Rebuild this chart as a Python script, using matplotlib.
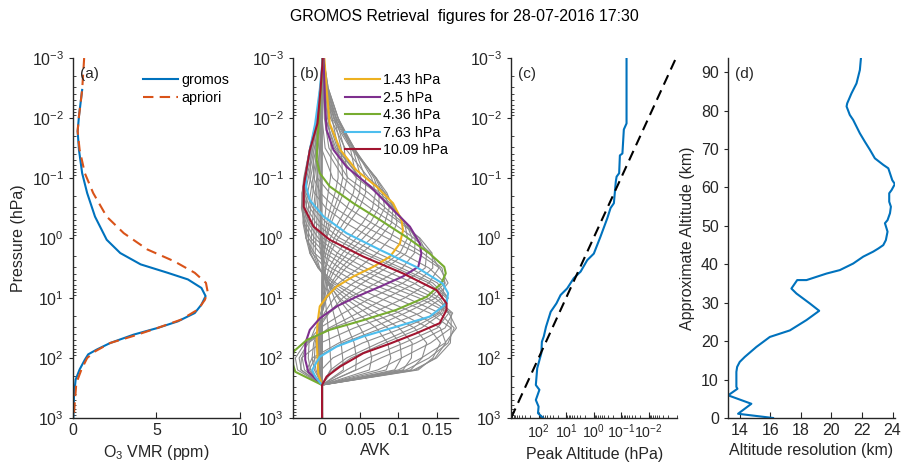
import numpy as np
import matplotlib
matplotlib.use("Agg")
import matplotlib.pyplot as plt
from matplotlib.ticker import LogLocator, NullFormatter, FixedLocator

plt.rcParams["font.family"] = ["Liberation Sans", "DejaVu Sans"]
plt.rcParams["mathtext.default"] = "regular"

AX_COLOR = "#262626"
BLUE = "#0072BD"
ORANGE = "#D95319"
KERNEL_COLORS = ["#EDB120", "#7E2F8E", "#77AC30", "#4DBEEE", "#A2142F"]
TICK_SIZE = 11.5
LABEL_SIZE = 11.5
LEGEND_SIZE = 10.3

TITLE = "GROMOS Retrieval  figures for 28-07-2016 17:30"

# ---- (a) ozone profile: retrieved vs apriori
gromos_vmr = [0.55, 0.36, 0.28, 0.36, 0.55, 0.85, 1.32, 2.02, 2.83, 4.05, 5.67, 6.88, 7.69, 7.94,
              7.69, 7.29, 6.28, 5.06, 3.64, 2.23, 1.42, 0.91, 0.71, 0.40, 0.16, 0.06, 0.02]
gromos_p = [0.0034, 0.0093, 0.0166, 0.034, 0.083, 0.178, 0.44, 1.07, 1.78, 2.75, 3.8, 4.9, 6.8, 9.3,
            12.9, 17.8, 24.5, 31.6, 40.7, 56.2, 72.4, 87, 107, 155, 229, 437, 1000]
apriori_vmr = [0.67, 0.55, 0.36, 0.28, 0.40, 0.71, 1.21, 2.02, 3.04, 4.45, 6.07, 7.29, 7.96, 8.06,
               7.90, 7.49, 6.48, 5.06, 3.64, 2.23, 1.32, 0.85, 0.51, 0.20, 0.04]
apriori_p = [0.001, 0.0034, 0.0093, 0.0166, 0.034, 0.083, 0.178, 0.44, 0.83, 1.55, 2.45, 3.8, 5.6, 7.8,
             10.7, 15.5, 22.9, 31.6, 42.7, 56.2, 77.6, 100, 155, 263, 1000]

# ---- (b) averaging kernels (gray rows on a common pressure grid)
avk_grid_p = [0.001, 0.00316, 0.01, 0.0316, 0.1, 0.178, 0.316, 0.562, 1.0, 1.78,
              3.16, 5.62, 10, 17.8, 31.6, 56.2, 100, 158, 282, 1000]
gray_kernels = [
    [0.001, 0.004, 0.008, 0.012, 0.011, 0.008, 0.005, 0.003, 0.001, 0, 0, 0, 0, 0, 0, 0, 0, 0, 0, 0],
    [0.002, 0.006, 0.013, 0.021, 0.021, 0.017, 0.011, 0.006, 0.003, 0.001, 0, 0, 0, 0, 0, 0, 0, 0, 0, 0],
    [0.002, 0.007, 0.016, 0.025, 0.027, 0.023, 0.016, 0.009, 0.005, 0.002, 0.001, 0, 0, 0, 0, 0, 0, 0, 0, 0],
    [0.002, 0.007, 0.018, 0.029, 0.033, 0.028, 0.020, 0.012, 0.006, 0.003, 0.001, 0, 0, 0, 0, 0, 0, 0, 0, 0],
    [0.002, 0.008, 0.021, 0.037, 0.045, 0.041, 0.032, 0.021, 0.011, 0.005, 0.002, 0.001, 0, 0, 0, 0, 0, 0, 0, 0],
    [0.002, 0.008, 0.021, 0.040, 0.051, 0.049, 0.041, 0.028, 0.016, 0.008, 0.004, 0.002, 0, 0, -0.001, -0.001, -0.001, -0.001, 0, 0],
    [0.002, 0.007, 0.021, 0.042, 0.057, 0.057, 0.049, 0.035, 0.021, 0.011, 0.005, 0.002, 0, 0, -0.001, -0.002, -0.002, -0.001, 0, 0],
    [0.001, 0.006, 0.019, 0.042, 0.065, 0.070, 0.066, 0.053, 0.035, 0.020, 0.009, 0.004, 0.001, 0, -0.002, -0.003, -0.003, -0.002, 0, 0],
    [0.001, 0.005, 0.018, 0.042, 0.068, 0.075, 0.074, 0.063, 0.045, 0.027, 0.014, 0.006, 0.002, 0, -0.002, -0.004, -0.004, -0.003, 0, 0],
    [0.001, 0.004, 0.016, 0.041, 0.070, 0.079, 0.082, 0.072, 0.054, 0.034, 0.018, 0.008, 0.003, 0, -0.002, -0.004, -0.005, -0.003, 0, 0],
    [0.001, 0.004, 0.015, 0.039, 0.071, 0.082, 0.088, 0.082, 0.065, 0.043, 0.025, 0.012, 0.005, 0, -0.003, -0.005, -0.006, -0.004, 0, 0],
    [0, 0.003, 0.013, 0.037, 0.071, 0.085, 0.093, 0.091, 0.075, 0.052, 0.031, 0.015, 0.006, 0, -0.003, -0.005, -0.006, -0.004, 0, 0],
    [0.001, 0.004, 0.011, 0.030, 0.061, 0.083, 0.095, 0.098, 0.090, 0.072, 0.048, 0.022, 0.006, -0.002, -0.005, -0.006, -0.006, -0.005, 0, 0],
    [0.002, 0.003, 0.007, 0.020, 0.050, 0.076, 0.095, 0.108, 0.112, 0.102, 0.075, 0.041, 0.016, 0.003, -0.005, -0.009, -0.010, -0.008, 0, 0],
    [0.001, 0.001, 0.004, 0.018, 0.050, 0.072, 0.093, 0.110, 0.118, 0.110, 0.084, 0.053, 0.027, 0.009, -0.004, -0.011, -0.013, -0.010, 0, 0],
    [0.001, 0.002, 0.005, 0.016, 0.045, 0.072, 0.092, 0.110, 0.122, 0.121, 0.105, 0.071, 0.035, 0.009, -0.009, -0.017, -0.018, -0.015, 0, 0],
    [0.001, 0.002, 0.003, 0.009, 0.034, 0.061, 0.083, 0.106, 0.127, 0.137, 0.135, 0.106, 0.064, 0.028, -0.003, -0.020, -0.026, -0.023, 0, 0],
    [0.001, 0.001, 0, 0.004, 0.028, 0.050, 0.076, 0.103, 0.128, 0.144, 0.145, 0.123, 0.084, 0.047, 0.009, -0.018, -0.030, -0.027, 0, 0],
    [0.001, 0, -0.002, -0.001, 0.014, 0.036, 0.063, 0.093, 0.120, 0.142, 0.153, 0.140, 0.108, 0.066, 0.013, -0.022, -0.035, -0.032, 0, 0],
    [0.001, -0.002, -0.005, -0.009, -0.006, 0.010, 0.034, 0.065, 0.099, 0.132, 0.157, 0.161, 0.141, 0.097, 0.042, -0.002, -0.027, -0.028, 0, 0],
    [0.001, -0.002, -0.006, -0.012, -0.011, -0.002, 0.017, 0.047, 0.085, 0.124, 0.154, 0.165, 0.149, 0.109, 0.065, 0.022, -0.013, -0.020, 0, 0],
    [0.001, -0.003, -0.007, -0.014, -0.016, -0.010, 0.005, 0.031, 0.065, 0.104, 0.140, 0.161, 0.157, 0.128, 0.079, 0.027, -0.009, -0.017, 0, 0],
    [0.001, -0.002, -0.007, -0.015, -0.022, -0.021, -0.012, 0.006, 0.034, 0.072, 0.115, 0.151, 0.165, 0.152, 0.106, 0.053, 0.014, -0.001, 0, 0],
    [0.001, -0.002, -0.006, -0.015, -0.022, -0.023, -0.016, -0.002, 0.023, 0.060, 0.104, 0.145, 0.165, 0.155, 0.119, 0.074, 0.032, 0.011, 0, 0],
    [0.001, -0.002, -0.006, -0.015, -0.022, -0.024, -0.020, -0.008, 0.015, 0.053, 0.097, 0.140, 0.163, 0.158, 0.130, 0.082, 0.038, 0.015, 0, 0],
    [0.001, -0.002, -0.006, -0.016, -0.023, -0.025, -0.024, -0.016, 0.001, 0.033, 0.074, 0.120, 0.154, 0.166, 0.151, 0.107, 0.060, 0.032, 0, 0],
    [0.001, -0.002, -0.007, -0.016, -0.024, -0.026, -0.025, -0.018, -0.005, 0.020, 0.057, 0.104, 0.148, 0.171, 0.161, 0.123, 0.077, 0.045, 0, 0],
    [0.001, -0.002, -0.007, -0.015, -0.023, -0.026, -0.026, -0.021, -0.010, 0.012, 0.046, 0.091, 0.138, 0.169, 0.169, 0.142, 0.104, 0.073, 0, 0],
    [0.001, -0.002, -0.006, -0.014, -0.022, -0.026, -0.027, -0.023, -0.015, 0.004, 0.034, 0.077, 0.127, 0.166, 0.176, 0.161, 0.130, 0.100, 0, 0],
    [0.001, -0.002, -0.005, -0.012, -0.020, -0.024, -0.026, -0.024, -0.018, -0.003, 0.023, 0.062, 0.111, 0.154, 0.173, 0.165, 0.140, 0.110, 0, 0],
    [0.001, -0.001, -0.004, -0.010, -0.018, -0.022, -0.024, -0.025, -0.021, -0.010, 0.012, 0.047, 0.095, 0.141, 0.169, 0.168, 0.150, 0.120, 0, 0],
    [0.001, -0.001, -0.003, -0.008, -0.015, -0.019, -0.021, -0.023, -0.021, -0.013, 0.004, 0.033, 0.075, 0.121, 0.155, 0.162, 0.148, 0.123, 0, 0],
    [0.001, 0, -0.002, -0.006, -0.012, -0.015, -0.018, -0.020, -0.021, -0.016, -0.005, 0.018, 0.055, 0.101, 0.140, 0.155, 0.145, 0.126, 0, 0],
    [0.001, 0, -0.002, -0.005, -0.010, -0.012, -0.015, -0.017, -0.018, -0.016, -0.005, 0.014, 0.046, 0.086, 0.121, 0.137, 0.131, 0.116, 0, 0],
    [0.001, 0, -0.001, -0.003, -0.007, -0.009, -0.011, -0.013, -0.014, -0.015, -0.005, 0.010, 0.037, 0.070, 0.101, 0.118, 0.117, 0.106, 0, 0],
    [0.001, 0, -0.001, -0.003, -0.006, -0.007, -0.009, -0.010, -0.011, -0.012, -0.004, 0.008, 0.030, 0.058, 0.086, 0.102, 0.104, 0.095, 0, 0],
    [0.001, 0, 0, -0.002, -0.004, -0.005, -0.006, -0.007, -0.008, -0.009, -0.003, 0.006, 0.023, 0.046, 0.071, 0.086, 0.090, 0.084, 0, 0],
    [0, 0, 0, -0.001, -0.002, -0.003, -0.004, -0.004, -0.004, -0.002, 0.001, 0.009, 0.021, 0.036, 0.050, 0.061, 0.065, 0.062, 0, 0],
    [0, 0, 0, 0, -0.001, -0.002, -0.002, -0.002, -0.002, -0.001, 0.002, 0.008, 0.016, 0.025, 0.034, 0.042, 0.045, 0.044, 0, 0],
    [0, 0, 0, 0, 0, -0.001, -0.001, -0.001, -0.001, 0, 0.002, 0.005, 0.010, 0.015, 0.020, 0.025, 0.027, 0.028, 0, 0],
    [0, 0, 0, 0, 0, 0, 0, 0, 0, 0, 0.001, 0.002, 0.004, 0.006, 0.008, 0.010, 0.011, 0.012, 0, 0],
]

kernel_labels = ["1.43 hPa", "2.5 hPa", "4.36 hPa", "7.63 hPa", "10.09 hPa"]
avk_143 = [0.003, 0.006, 0.010, 0.024, 0.045, 0.071, 0.093, 0.104, 0.106, 0.102, 0.089, 0.067, 0.041,
           0.019, 0.006, -0.003, -0.006, -0.007, -0.006, -0.005, 0, 0]
p_143 = [0.001, 0.0034, 0.0123, 0.034, 0.074, 0.138, 0.263, 0.5, 0.74, 1.23, 2.04, 3.02, 4.37,
         6.46, 9.55, 13.8, 26.3, 50.1, 95.5, 182, 282, 1000]
avk_250 = [0.002, 0.004, 0.006, 0.015, 0.032, 0.063, 0.089, 0.115, 0.128, 0.130, 0.126, 0.106, 0.076,
           0.045, 0.019, -0.003, -0.016, -0.022, -0.022, -0.018, 0, 0]
p_250 = [0.001, 0.0065, 0.0158, 0.034, 0.065, 0.138, 0.302, 0.646, 1.23, 1.82, 3.02, 4.37, 6.46,
         9.55, 13.8, 21.9, 33.9, 57.5, 107, 170, 282, 1000]
avk_436 = [0.001, -0.003, -0.006, -0.007, -0.003, 0.010, 0.041, 0.076, 0.110, 0.141, 0.160, 0.162, 0.156,
           0.137, 0.097, 0.054, 0.010, -0.020, -0.037, -0.040, -0.035, 0, 0]
p_436 = [0.001, 0.0065, 0.0234, 0.05, 0.083, 0.138, 0.263, 0.5, 0.955, 1.82, 3.02, 3.89, 5.75,
         9.55, 15.8, 23.4, 33.9, 50.1, 77.6, 107, 170, 282, 1000]
avk_763 = [0.001, -0.003, -0.009, -0.016, -0.021, -0.021, -0.016, 0.002, 0.032, 0.076, 0.123, 0.158, 0.165,
           0.163, 0.141, 0.097, 0.054, 0.019, -0.003, -0.013, -0.009, 0, 0]
p_763 = [0.001, 0.0034, 0.0123, 0.034, 0.083, 0.138, 0.234, 0.437, 0.83, 1.58, 3.02, 5.75, 8.3,
         12.3, 20.4, 30.2, 43.7, 64.6, 95.5, 158, 204, 282, 1000]
avk_1009 = [0.001, -0.002, -0.006, -0.016, -0.024, -0.024, -0.011, 0.010, 0.054, 0.106, 0.150, 0.163, 0.163,
            0.154, 0.123, 0.089, 0.054, 0.024, 0.006, 0, 0]
p_1009 = [0.001, 0.0034, 0.0123, 0.034, 0.138, 0.302, 0.646, 1.07, 2.04, 3.89, 7.41, 12.3, 15.8,
          26.3, 38.9, 57.5, 83.2, 138, 204, 282, 1000]

# ---- (c) peak altitude of each kernel vs nominal pressure
peak_p = [0.063, 0.063, 0.079, 0.089, 0.11, 0.117, 0.145, 0.155, 0.182, 0.24, 0.316, 0.562, 0.977,
          1.7, 2.95, 5.25, 9.12, 15.8, 22.4, 36.3, 53.7, 64.6, 75.9, 79.4, 112, 126, 93.3, 126, 100, 105, 67.6]
nominal_p = [0.001, 0.0123, 0.0155, 0.039, 0.042, 0.083, 0.095, 0.115, 0.263, 0.316, 0.468, 0.955, 1.82,
             2.34, 3.63, 4.68, 6.92, 8.91, 12.3, 17.0, 30.2, 43.7, 53.7, 83.2, 148, 282, 339, 501, 646, 832, 1000]

# ---- (d) altitude resolution
resolution_km = [21.93, 21.86, 21.64, 21.31, 21.03, 20.99, 21.2, 21.42, 21.86, 22.19, 22.52, 22.84, 23.39,
                 23.72, 23.83, 23.98, 24.15, 23.93, 23.78, 23.78, 23.89, 23.83, 23.67, 23.5, 23.61, 23.67,
                 23.56, 23.39, 23.06, 22.73, 22.08, 21.42, 20.55, 19.68, 18.37, 17.76, 17.38, 17.71, 18.59,
                 19.2, 18.37, 17.28, 15.97, 15.09, 14.33, 14.0, 13.83, 13.78, 13.78, 13.85, 13.24, 14.76,
                 13.89, 16.18]
altitude_km = [93.7, 90.6, 87.1, 84.5, 81.9, 81.1, 78.9, 77.6, 74.1, 71.9, 69.8, 67.6, 65.9,
               65.0, 63.7, 61.9, 60.9, 59.3, 58.5, 56.3, 55.0, 53.3, 51.5, 50.7, 49.3, 48.5,
               46.3, 45.0, 44.1, 43.3, 42.0, 40.2, 38.5, 37.6, 35.9, 35.9, 33.7, 32.4, 29.8,
               27.9, 25.5, 22.8, 21.1, 18.5, 15.9, 14.6, 13.3, 12.0, 8.1, 7.6, 5.9, 3.7,
               1.1, 0.0]


def styleAxis(ax):
    for side in ["top", "right"]:
        ax.spines[side].set_visible(False)
    for side in ["left", "bottom"]:
        ax.spines[side].set_color(AX_COLOR)
        ax.spines[side].set_linewidth(1.0)
    ax.tick_params(which="both", colors=AX_COLOR, labelsize=TICK_SIZE)
    ax.tick_params(axis="y", which="major", direction="out", length=3)
    ax.tick_params(axis="y", which="minor", direction="in", length=2.5)
    ax.tick_params(axis="x", which="major", direction="in", length=4)
    ax.tick_params(axis="x", which="minor", direction="in", length=2.5)


def logPressureAxis(ax):
    ax.set_yscale("log")
    ax.set_ylim(1000, 1e-3)
    ax.yaxis.set_major_locator(FixedLocator([1e-3, 1e-2, 1e-1, 1e0, 1e1, 1e2, 1e3]))
    ax.yaxis.set_minor_locator(LogLocator(base=10, subs=np.arange(2, 10), numticks=20))
    ax.yaxis.set_minor_formatter(NullFormatter())


def panelTag(ax, tag):
    ax.text(0.04, 0.955, tag, transform=ax.transAxes, ha="left", va="center", fontsize=11, color=AX_COLOR)


def cornerLegend(ax, x0):
    ax.legend(loc="upper left", bbox_to_anchor=(x0, 0.974), borderaxespad=0, frameon=False,
              fontsize=LEGEND_SIZE, handlelength=2.45, handletextpad=0.2, labelspacing=0.25)


fig = plt.figure(figsize=(9.03, 4.73), dpi=100)
fig.text(0.514, 0.966, TITLE, ha="center", va="center", fontsize=11.4, color="black")

bottom, height = 0.1163, 0.761
axA = fig.add_axes([0.0808, bottom, 0.185, height])
axB = fig.add_axes([0.3245, bottom, 0.1827, height])
axC = fig.add_axes([0.566, bottom, 0.184, height])
axD = fig.add_axes([0.806, bottom, 0.185, height])

# (a)
axA.plot(gromos_vmr, gromos_p, color=BLUE, lw=1.5, label="gromos")
axA.plot(apriori_vmr, apriori_p, color=ORANGE, lw=1.5, ls=(0, (5, 3)), label="apriori")
logPressureAxis(axA)
axA.set_xlim(0, 10)
axA.set_xticks([0, 5, 10])
axA.set_ylabel("Pressure (hPa)", fontsize=LABEL_SIZE, color=AX_COLOR)
axA.set_xlabel("O$_3$ VMR (ppm)", fontsize=LABEL_SIZE, color=AX_COLOR)
cornerLegend(axA, 0.385)
styleAxis(axA)
panelTag(axA, "(a)")

# (b)
for row in gray_kernels:
    axB.plot(row, avk_grid_p, color="#8c8c8c", lw=0.8)
colored = [(avk_143, p_143), (avk_250, p_250), (avk_436, p_436), (avk_763, p_763), (avk_1009, p_1009)]
for (vals, pres), col, lab in zip(colored, KERNEL_COLORS, kernel_labels):
    axB.plot(vals, pres, color=col, lw=1.5, label=lab)
logPressureAxis(axB)
axB.set_xlim(-0.038, 0.178)
axB.set_xticks([0, 0.05, 0.1, 0.15])
axB.set_xticklabels(["0", "0.05", "0.1", "0.15"])
axB.set_xlabel("AVK", fontsize=LABEL_SIZE, color=AX_COLOR)
cornerLegend(axB, 0.28)
styleAxis(axB)
panelTag(axB, "(b)")

# (c)
axC.plot(peak_p, nominal_p, color=BLUE, lw=1.5)
axC.plot([1000, 1e-3], [1000, 1e-3], color="black", lw=1.5, ls=(0, (5, 3)))
logPressureAxis(axC)
axC.set_xscale("log")
axC.set_xlim(1000, 9e-4)
axC.xaxis.set_major_locator(FixedLocator([1e2, 1e1, 1e0, 1e-1, 1e-2]))
axC.xaxis.set_minor_locator(LogLocator(base=10, subs=np.arange(2, 10), numticks=20))
axC.xaxis.set_minor_formatter(NullFormatter())
axC.set_xlabel("Peak Altitude (hPa)", fontsize=LABEL_SIZE, color=AX_COLOR)
styleAxis(axC)
axC.tick_params(axis="x", which="major", labelsize=10.2)
panelTag(axC, "(c)")

# (d)
axD.plot(resolution_km, altitude_km, color=BLUE, lw=1.5)
axD.set_xlim(13.22, 24.15)
axD.set_ylim(0, 93.7)
axD.set_xticks([14, 16, 18, 20, 22, 24])
axD.set_yticks(np.arange(0, 91, 10))
axD.set_xlabel("Altitude resolution (km)", fontsize=LABEL_SIZE, color=AX_COLOR)
axD.set_ylabel("Approximate Altitude (km)", fontsize=LABEL_SIZE, color=AX_COLOR)
styleAxis(axD)
panelTag(axD, "(d)")

fig.savefig("out.png", dpi=100)
